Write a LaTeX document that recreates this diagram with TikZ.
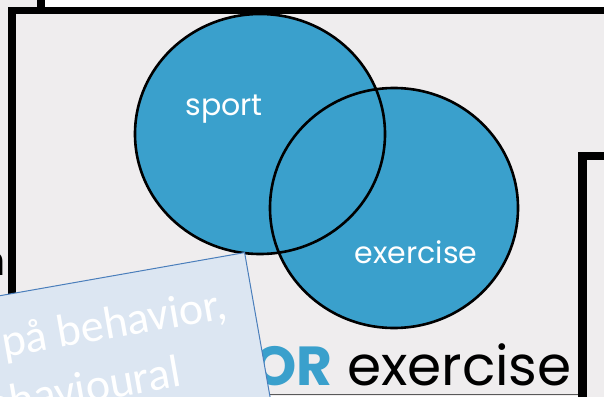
\documentclass[tikz,border=0pt]{standalone}
\usepackage{fontspec}
\newfontfamily\vennfont{Poppins}
\newfontfamily\notefont{Carlito}
\definecolor{venncolor}{RGB}{58,160,204}
\definecolor{bggray}{RGB}{239,237,238}
\definecolor{notefill}{RGB}{220,230,242}
\definecolor{noteline}{RGB}{74,126,187}
\begin{document}
\begin{tikzpicture}[x=1pt,y=-1pt]
		\newcommand{\myfontlabel}[1]{
			\vennfont\fontsize{30}{32}\selectfont{#1}
		}\newcommand{\myfontbig}[1]{
			\vennfont\fontsize{55}{60}\selectfont{#1}
		}\newcommand{\myfontnote}[1]{
			\notefont\fontsize{46}{50}\selectfont{#1}
		}%Page and background
		\useasboundingbox (0,0) rectangle (604,396);
		\fill[bggray] (0,0) rectangle (604,396);
		%Box above, only its corner shows
		\fill[white] (41,-20) rectangle (640,10);
		\draw[line width=8pt] (41,-20) -- (41,10);
		%Outer frame
		\draw[line width=7.5pt] (12,460) -- (12,10.5) -- (660,10.5);
		%Text cut off at the left edge
		\node [inner sep=0, anchor=base east] (cutletter) at (6,275) {\myfontnote{n}};
		%The two circles
		\coordinate (centersport) at (260,134);
		\coordinate (centerexercise) at (394,208);
		\fill[venncolor] (centersport) ellipse [x radius=125, y radius=120];
		\fill[venncolor] (centerexercise) ellipse [x radius=124, y radius=120];
		\draw[line width=2.6pt] (centersport) ellipse [x radius=125, y radius=120];
		\draw[line width=2.6pt] (centerexercise) ellipse [x radius=124, y radius=120];
		%Circle labels
		\node [inner sep=0, anchor=base, white] (sport) at (224,115) {\myfontlabel{sport}};
		\node [inner sep=0, anchor=base, white] (exercise) at (416,263) {\myfontlabel{exercise}};
		%Title under the circles
		\node [inner sep=0, anchor=base east] (title) at (572,385) {\myfontbig{{\color{venncolor}\bfseries OR} exercise}};
		\draw[black!65, line width=0.8pt] (250,394.5) -- (580,394.5);
		%Box at the right
		\fill[bggray] (582.5,156) rectangle (660,460);
		\draw[line width=8.5pt] (582.5,460) -- (582.5,156) -- (660,156);
		%Note lying over the picture
		\node [draw=noteline, fill=notefill, line width=1pt, rotate=10, anchor=north east,
			minimum width=440pt, minimum height=320pt] (note) at (245,252) {};
		\node [inner sep=0, anchor=base east, rotate=10, white] (noteline1) at (229,318) {\myfontnote{på behavior,}};
		\node [inner sep=0, anchor=base east, rotate=10, white] (noteline2) at (183,386) {\myfontnote{behavioural}};
\end{tikzpicture}
\end{document}
